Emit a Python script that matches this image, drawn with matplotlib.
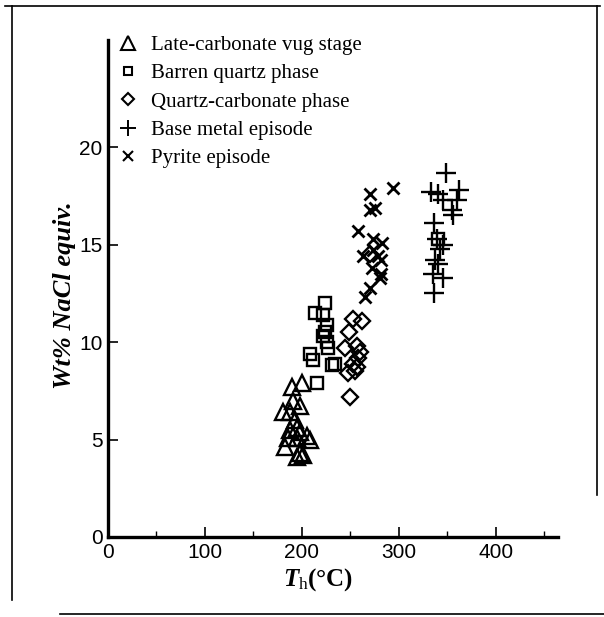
import matplotlib
matplotlib.use("Agg")
import matplotlib.pyplot as plt
from matplotlib.lines import Line2D
from matplotlib.ticker import MultipleLocator

plt.rcParams["mathtext.fontset"] = "custom"
plt.rcParams["mathtext.it"] = "Liberation Serif:italic:bold"
plt.rcParams["mathtext.bf"] = "Liberation Serif:bold"
plt.rcParams["mathtext.rm"] = "Liberation Serif"

# ---- data (Th in degC, salinity in wt% NaCl equiv.) ----
late_T = [200, 190, 191, 198, 180, 188, 193, 195, 188, 198, 205, 186, 195, 208, 182, 198, 201, 195]
late_W = [7.9, 7.7, 7.0, 6.7, 6.4, 6.4, 6.0, 5.6, 5.5, 5.4, 5.2, 5.1, 5.1, 5.0, 4.6, 4.3, 4.2, 4.1]

barren_T = [224, 213, 222, 226, 224, 222, 226, 227, 208, 211, 234, 231, 216, 340]
barren_W = [12.0, 11.5, 11.4, 10.9, 10.5, 10.3, 10.0, 9.7, 9.4, 9.1, 8.9, 8.8, 7.9, 15.3]

qc_T = [253, 262, 249, 244, 257, 260, 258, 253, 257, 255, 247, 250, 270]
qc_W = [11.2, 11.1, 10.5, 9.7, 9.8, 9.5, 9.2, 8.9, 8.7, 8.5, 8.4, 7.2, 14.5]

base_T = [348, 333, 340, 362, 360, 345, 355, 356, 336, 339, 345, 342, 337, 340, 335, 345, 336]
base_W = [18.7, 17.7, 17.6, 17.8, 17.3, 17.3, 16.8, 16.5, 16.1, 15.3, 15.0, 14.8, 14.2, 14.0, 13.5, 13.3, 12.5]

pyr_T = [270, 294, 270, 275, 258, 273, 283, 263, 273, 278, 282, 272, 282, 280, 270, 265]
pyr_W = [17.6, 17.9, 16.8, 16.9, 15.7, 15.3, 15.1, 14.4, 14.7, 14.4, 14.2, 13.8, 13.5, 13.3, 12.8, 12.3]

labels = ["Late-carbonate vug stage", "Barren quartz phase", "Quartz-carbonate phase",
          "Base metal episode", "Pyrite episode"]
x_ticks = [0, 100, 200, 300, 400]
y_ticks = [0, 5, 10, 15, 20]

W, H = 604, 617
fig = plt.figure(figsize=(W / 100, H / 100), dpi=100)
ax = fig.add_axes([108 / W, 1 - 537 / H, (558 - 108) / W, (537 - 40) / H])

mk = dict(linestyle="none", markerfacecolor="none", markeredgecolor="black")
ax.plot(late_T, late_W, marker="^", markersize=12, markeredgewidth=1.7, **mk)
ax.plot(barren_T, barren_W, marker="s", markersize=8.5, markeredgewidth=1.7, **mk)
ax.plot(qc_T, qc_W, marker="D", markersize=8, markeredgewidth=1.7, **mk)
ax.plot(base_T, base_W, marker="+", markersize=14, markeredgewidth=1.7, **mk)
ax.plot(pyr_T, pyr_W, marker="x", markersize=8.5, markeredgewidth=2.0, **mk)

ax.set_xlim(0, 464)
ax.set_ylim(0, 25.5)
for s in ["top", "right"]:
    ax.spines[s].set_visible(False)
for s in ["left", "bottom"]:
    ax.spines[s].set_linewidth(2.4)

ax.set_xticks(x_ticks)
ax.set_yticks(y_ticks)
ax.xaxis.set_minor_locator(MultipleLocator(50))
ax.tick_params(axis="both", which="major", direction="in", length=7, width=1.2,
               labelsize=15, pad=4)
ax.tick_params(axis="x", which="minor", direction="in", length=4, width=1.0)
for lab in ax.get_xticklabels() + ax.get_yticklabels():
    lab.set_family("Liberation Sans")

ax.set_ylabel("Wt% NaCl equiv.", family="Liberation Serif", fontsize=19,
              fontweight="bold", fontstyle="italic")
ax.yaxis.set_label_coords((76 - 108) / 450, (537 - 295) / 497)
ax.set_xlabel(r"$\mathit{T}_{\mathrm{h}}$(°C)", family="Liberation Serif",
              fontsize=18, fontweight="bold")
ax.xaxis.set_label_coords((318 - 108) / 450, -(580 - 537) / 497)
ax.xaxis.label.set_verticalalignment("center")

handles = [
    Line2D([], [], marker="^", markersize=10, markeredgewidth=1.5, **mk),
    Line2D([], [], marker="s", markersize=6, markeredgewidth=1.5, **mk),
    Line2D([], [], marker="D", markersize=6, markeredgewidth=1.5, **mk),
    Line2D([], [], marker="+", markersize=11, markeredgewidth=1.4, **mk),
    Line2D([], [], marker="x", markersize=7, markeredgewidth=1.5, **mk),
]
leg = fig.legend(handles, labels, loc="upper left", bbox_to_anchor=(105 / W, 1 - 25 / H),
                 frameon=False, prop={"family": "Liberation Serif", "size": 15},
                 handlelength=1.2, handletextpad=0.5, labelspacing=0.42, borderpad=0)

# outer frame
fig.add_artist(plt.Line2D([5 / W, 600 / W], [1 - 6 / H, 1 - 6 / H], color="black", lw=1.2))
fig.add_artist(plt.Line2D([12 / W, 12 / W], [1 - 6 / H, 1 - 600 / H], color="black", lw=1.2))
fig.add_artist(plt.Line2D([597 / W, 597 / W], [1 - 6 / H, 1 - 495 / H], color="black", lw=1.2))
fig.add_artist(plt.Line2D([60 / W, 604 / W], [1 - 614 / H, 1 - 614 / H], color="black", lw=1.2))

fig.savefig("out.png", dpi=100)
